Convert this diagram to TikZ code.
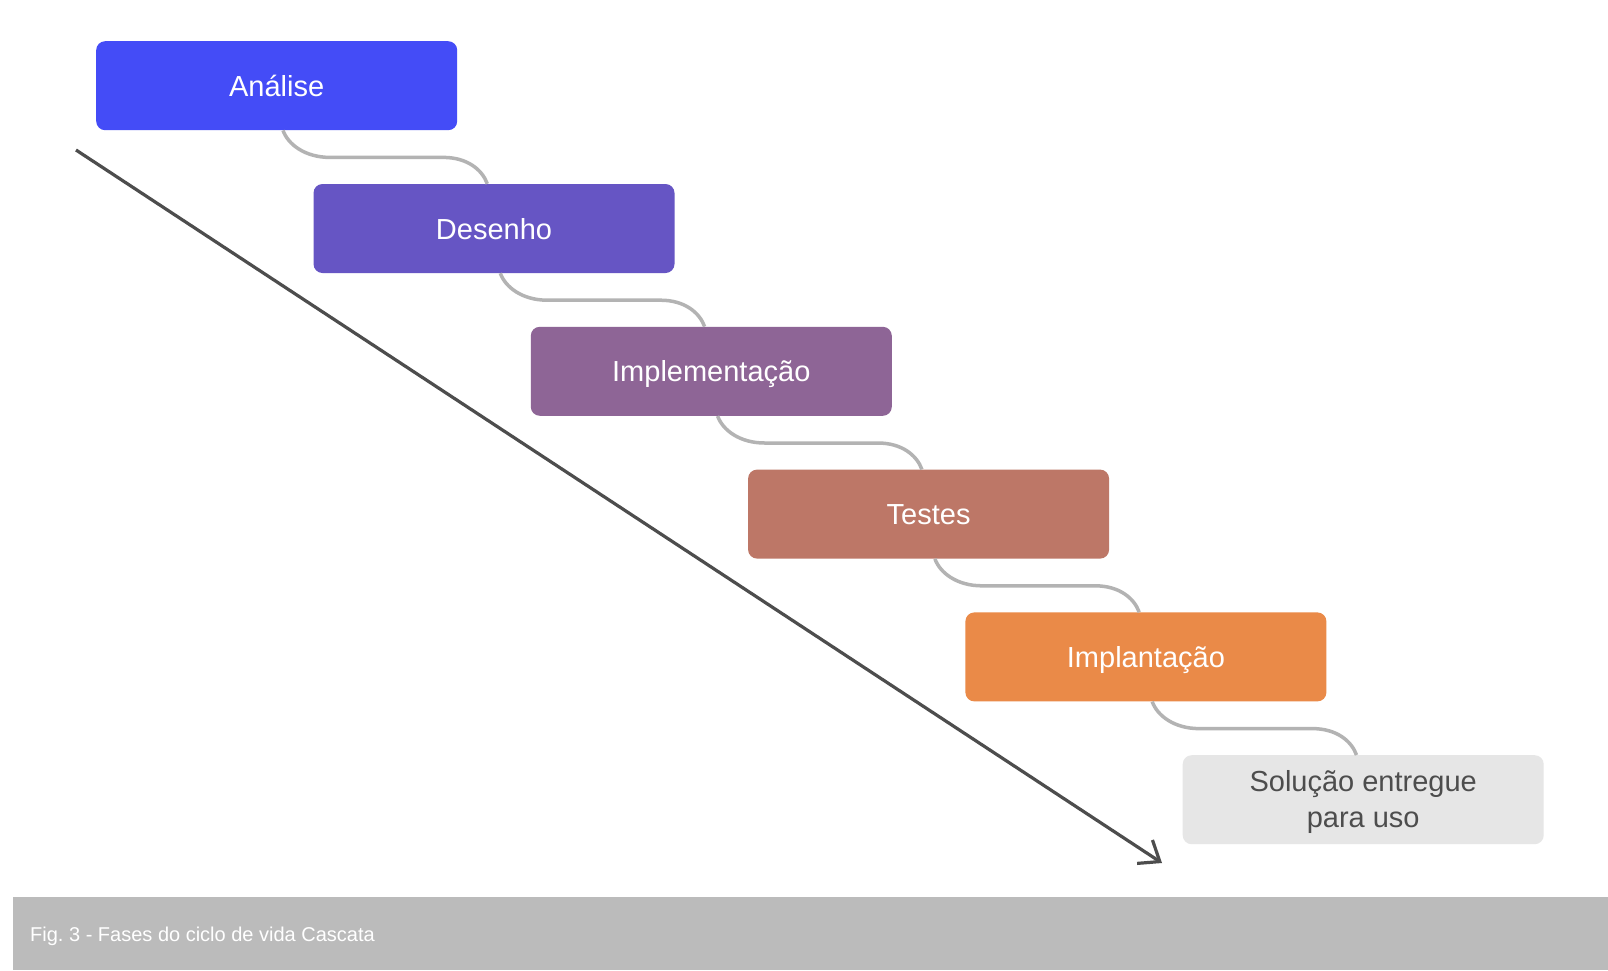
\documentclass[tikz,border=0pt]{standalone}
\usepackage{fontspec}
\setmainfont{Liberation Sans}
\usetikzlibrary{arrows.meta,calc}
\definecolor{cA}{HTML}{444CF7}
\definecolor{cB}{HTML}{6655C4}
\definecolor{cC}{HTML}{8E6596}
\definecolor{cD}{HTML}{BD7767}
\definecolor{cE}{HTML}{EA8A48}
\definecolor{cF}{HTML}{E6E6E6}
\definecolor{txtdark}{HTML}{4D4D4D}
\definecolor{connc}{HTML}{B3B3B3}
\definecolor{arrc}{HTML}{4D4D4D}
\definecolor{capbg}{HTML}{BBBBBB}
\frenchspacing
\begin{document}
\begin{tikzpicture}[x=1pt,y=-1pt,
  phasebox/.style={rounded corners=9pt, minimum width=361pt, minimum height=89pt,
    anchor=north west, inner sep=0pt, font=\fontsize{29}{35.7}\selectfont},
  single/.style={text=white, text height=21pt, text depth=0pt},
  conn/.style={draw=connc, line width=3.5pt},
  arr/.style={draw=arrc, line width=3.2pt, -{Straight Barb[length=18pt,width=28pt]}},
  captext/.style={text=white, font=\fontsize{20}{24}\selectfont, anchor=base west, inner sep=0pt}]
\useasboundingbox (0,0) rectangle (1608,970);
\fill[white] (0,0) rectangle (1608,970);

\node[phasebox, single, fill=cA] (b0) at (96,41) {Análise};
\node[phasebox, single, fill=cB] (b1) at (313.3,183.8) {Desenho};
\node[phasebox, single, fill=cC] (b2) at (530.6,326.6) {Implementação};
\node[phasebox, single, fill=cD] (b3) at (747.9,469.4) {Testes};
\node[phasebox, single, fill=cE] (b4) at (965.2,612.2) {Implantação};
\node[phasebox, fill=cF, text=txtdark, align=center] (b5) at (1182.5,755) {\rule{0pt}{26pt}Solução entregue\\para uso};

\foreach \i/\j in {0/1,1/2,2/3,3/4,4/5}{
  \draw[conn] ($(b\i.south west)+(187,0)$) .. controls +(5,14) and +(-25,0) ..
    ($(b\i.south west)+(234,27)$) -- ++(113.3,0)
    .. controls +(24,0) and +(-5,-14) .. ($(b\j.north west)+(174,0)$);
}

\coordinate (astart) at (76,150);
\coordinate (aend) at (1162,863);
\draw[arr] (astart) -- (aend);

\fill[capbg] (13,897) rectangle (1608,970);
\node[captext] (cap) at (30,941.7) {Fig. 3 - Fases do ciclo de vida Cascata};
\end{tikzpicture}
\end{document}
